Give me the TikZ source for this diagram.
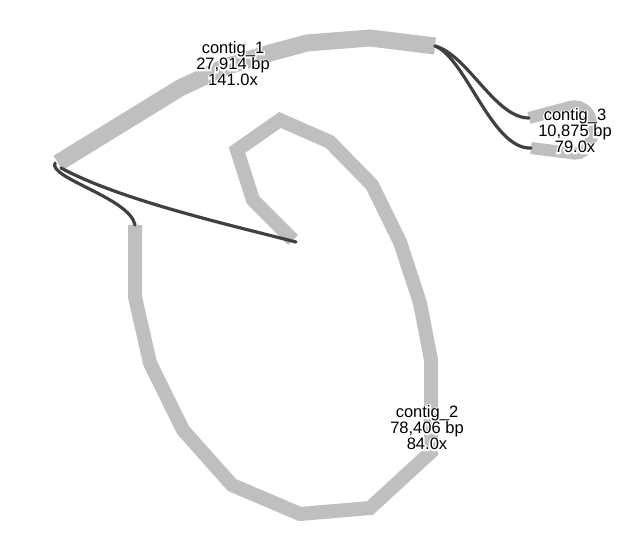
\documentclass[tikz,border=0pt]{standalone}
\usepackage{fontspec}
\setmainfont{Liberation Sans}
\newfontfamily\halofont[FakeBold=18]{Liberation Sans}
\definecolor{contigc}{RGB}{191,191,191}
\definecolor{edgec}{RGB}{64,64,64}
\tikzset{
  contigpath/.style={draw=contigc, line cap=butt, line join=miter},
  edgepath/.style={draw=edgec, line width=3.2pt, line cap=round},
  lbl/.style={align=center, inner sep=0pt, font=\fontsize{16.5}{16}\selectfont},
  halolbl/.style={align=center, inner sep=0pt, text=white, font=\fontsize{16.5}{16}\selectfont\halofont},
}
\newcommand\haloLabel[3]{%
  \node[halolbl] (#1h) at (#2) {#3};
  \node[lbl] (#1) at (#2) {#3};}
\begin{document}
\begin{tikzpicture}[x=1pt,y=-1pt]
\fill[white] (0,0) rectangle (642,556);
\useasboundingbox (0,0) rectangle (642,556);

% contig_1
\draw[contigpath, line width=17pt] (58,163) coordinate (c1s) -- (180,88) -- (225,67) -- (270,53) -- (307,43) -- (370,38) -- (435,46) coordinate (c1e);

% contig_2
\draw[contigpath, line width=14pt] (135,225) coordinate (c2s) -- (135,297) -- (150,363) -- (183,430) -- (232,485) -- (300,514) -- (370,508) -- (431,452) -- (431,360) -- (420,303) -- (400,242) -- (372,185) -- (330,142) -- (280,120) -- (237,150) -- (253,200) -- (293,240) coordinate (c2e);

% contig_3
\draw[contigpath, line width=12pt] (529,118) coordinate (c3a) -- (570,107) .. controls (600,100) and (600,160) .. (570,153) -- (531,148) coordinate (c3b);

% edges
\draw[edgepath] (c1e) .. controls (468,55) and (495,118) .. (c3a);
\draw[edgepath] (c1e) .. controls (466,58) and (492,150) .. (c3b);
\coordinate (c1sa) at (55,163);
\coordinate (c1sb) at (61,168);
\coordinate (c2ex) at (296,242);
\draw[edgepath] (c1sa) .. controls (48,178) and (130,198) .. (c2s);
\draw[edgepath] (c1sb) .. controls (120,200) and (230,225) .. (c2ex);

% labels
\haloLabel{l1}{233,64}{contig\_1\\27,914 bp\\141.0x}
\haloLabel{l2}{427,428}{contig\_2\\78,406 bp\\84.0x}
\haloLabel{l3}{575,131}{contig\_3\\10,875 bp\\79.0x}
\end{tikzpicture}
\end{document}
